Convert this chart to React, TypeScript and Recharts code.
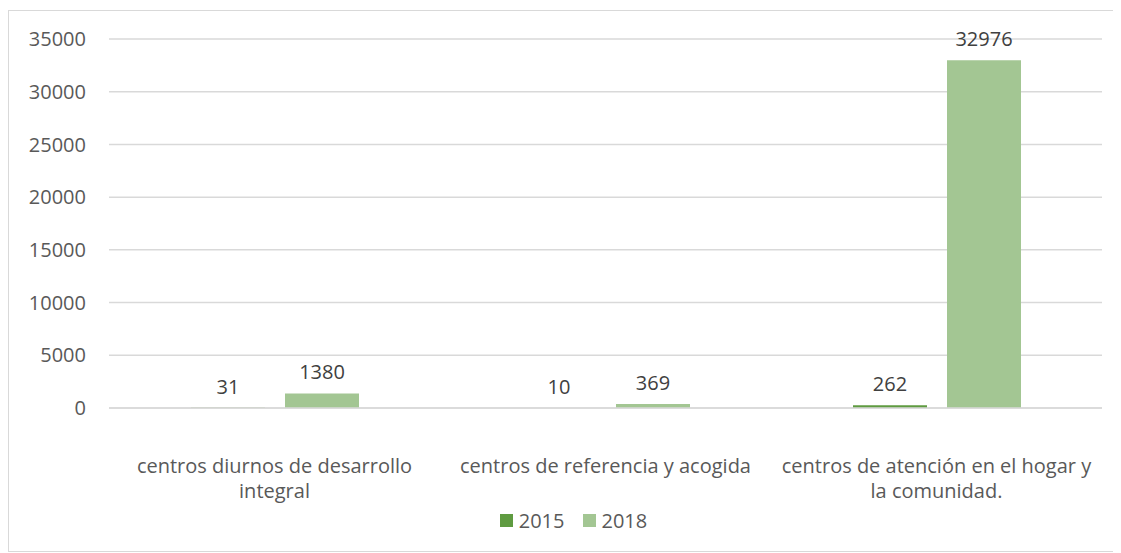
import { BarChart, Bar, XAxis, YAxis, CartesianGrid, Legend, LabelList } from 'recharts';

const categories = [
  'centros diurnos de desarrollo integral',
  'centros de referencia y acogida',
  'centros de atención en el hogar y la comunidad.',
];
// how the category names are broken over lines under the axis
const categoryLines = [
  ['centros diurnos de desarrollo', 'integral'],
  ['centros de referencia y acogida'],
  ['centros de atención en el hogar y', 'la comunidad.'],
];
const values2015 = [31, 10, 262];
const values2018 = [1380, 369, 32976];
const yTicks = [0, 5000, 10000, 15000, 20000, 25000, 30000, 35000];

const data = categories.map((name, i) => ({
  name,
  y2015: values2015[i],
  y2018: values2018[i],
}));

const FONT = '"Open Sans", sans-serif';
const TEXT_COLOR = '#595959';
const FONT_SIZE = 20;

const CategoryTick = (props: any) => {
  const { x, y, index } = props;
  const lines = categoryLines[index] || [];
  return (
    <text
      x={x}
      y={y}
      textAnchor="middle"
      fill={TEXT_COLOR}
      fontSize={FONT_SIZE}
      fontFamily={FONT}
    >
      {lines.map((line, i) => (
        <tspan key={i} x={x} dy={i === 0 ? 65 : 25}>
          {line}
        </tspan>
      ))}
    </text>
  );
};

const LegendContent = (props: any) => {
  const { payload } = props;
  return (
    <div style={{ display: 'flex', justifyContent: 'center', paddingLeft: 36 }}>
      {(payload || []).map((entry: any, i: number) => (
        <div key={i} style={{ display: 'flex', alignItems: 'center', marginRight: i === 0 ? 18 : 0 }}>
          <span style={{ width: 13, height: 13, background: entry.color, display: 'inline-block', marginRight: 6 }} />
          <span style={{ color: TEXT_COLOR, fontSize: FONT_SIZE, fontFamily: FONT }}>{entry.value}</span>
        </div>
      ))}
    </div>
  );
};

const App = () => {
  return (
    <div
      style={{
        width: 1111,
        height: 540,
        marginTop: 2,
        border: '1px solid #d9d9d9',
        fontFamily: FONT,
      }}
    >
      <BarChart
        width={1111}
        height={540}
        data={data}
        margin={{ top: 28, right: 18, left: 0, bottom: 17 }}
        barSize={74}
        barGap={20}
      >
        <CartesianGrid vertical={false} stroke="#d9d9d9" strokeWidth={1.5} />
        <XAxis
          dataKey="name"
          interval={0}
          tick={<CategoryTick />}
          tickLine={false}
          axisLine={{ stroke: '#d9d9d9', strokeWidth: 1.5 }}
          height={99}
          tickMargin={0}
          tickSize={0}
        />
        <YAxis
          width={100}
          domain={[0, 35000]}
          ticks={yTicks}
          axisLine={false}
          tickLine={false}
          tickSize={0}
          tickMargin={23}
          tick={{ fill: TEXT_COLOR, fontSize: FONT_SIZE, fontFamily: FONT }}
        />
        <Legend verticalAlign="bottom" align="center" content={<LegendContent />} />
        <Bar dataKey="y2015" name="2015" fill="#5f9b41" isAnimationActive={false}>
          <LabelList
            dataKey="y2015"
            position="top"
            offset={14}
            fill="#404040"
            fontSize={FONT_SIZE}
            fontFamily={FONT}
          />
        </Bar>
        <Bar dataKey="y2018" name="2018" fill="#a3c693" isAnimationActive={false}>
          <LabelList
            dataKey="y2018"
            position="top"
            offset={14}
            fill="#404040"
            fontSize={FONT_SIZE}
            fontFamily={FONT}
          />
        </Bar>
      </BarChart>
    </div>
  );
};

export default App;
